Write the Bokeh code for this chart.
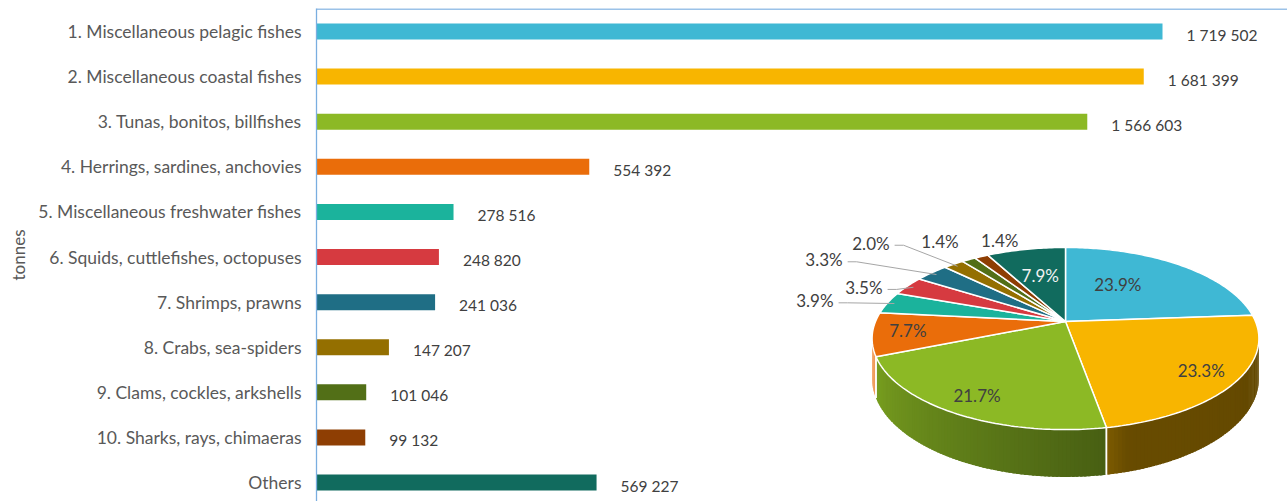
import math
from bokeh.plotting import figure
from bokeh.models import Range1d, FixedTicker, ColumnDataSource, Span
from bokeh.embed import file_html
from bokeh.resources import INLINE
from bokeh.core.properties import value

# ---------------- data ----------------
categories = [
    "1. Miscellaneous pelagic fishes",
    "2. Miscellaneous coastal fishes",
    "3. Tunas, bonitos, billfishes",
    "4. Herrings, sardines, anchovies",
    "5. Miscellaneous freshwater fishes",
    "6. Squids, cuttlefishes, octopuses",
    "7. Shrimps, prawns",
    "8. Crabs, sea-spiders",
    "9. Clams, cockles, arkshells",
    "10. Sharks, rays, chimaeras",
    "Others",
]
tonnes = [1719502, 1681399, 1566603, 554392, 278516, 248820, 241036,
          147207, 101046, 99132, 569227]
colors = ["#3FB8D4", "#F8B500", "#8CB925", "#EA6D0A", "#1BB39C", "#D63A40",
          "#1F6E85", "#946F00", "#526F17", "#8E3E03", "#116B5E"]

# ---------------- styles ----------------
FONT = "Lato"
TXT = "#404040"
AXC = "#7AAEE0"
# inside pie labels: index -> (radius factor, angle nudge deg, colour)
inside_style = {0: (0.55, -10, TXT), 1: (0.82, 0, TXT), 2: (0.83, 0, TXT),
                3: (0.82, 1, TXT), 10: (0.6, 0, "#F2F2F2")}
# outside pie labels: index -> (dx, dy, leader)
outside_style = {4: (-54, -2, True), 5: (-25, 1.5, True), 6: (-89, -13, True),
                 7: (-64, -21, True), 8: (-10, -18, False), 9: (37, -16, False)}

n = len(categories)
idx = list(range(n))

p = figure(width=1287, height=501,
           x_range=Range1d(0, 1973560), y_range=Range1d(10.42, -0.51),
           output_backend="svg", toolbar_location=None, title=None,
           min_border_left=316, min_border_right=0, min_border_top=8, min_border_bottom=0)
p.extra_x_ranges = {"px": Range1d(316, 1287)}
p.extra_y_ranges = {"py": Range1d(501, 8)}
p.outline_line_color = None
p.xgrid.visible = False
p.ygrid.visible = False
p.xaxis.visible = False

ya = p.yaxis[0]
ya.ticker = FixedTicker(ticks=idx)
ya.major_label_overrides = {i: c for i, c in enumerate(categories)}
ya.major_tick_line_color = None
ya.minor_tick_line_color = None
ya.major_tick_out = 0
ya.major_tick_in = 0
ya.major_label_standoff = 15
ya.axis_line_color = AXC
ya.axis_line_width = 1.3
ya.major_label_text_font = FONT
ya.major_label_text_font_size = "17.5px"
ya.major_label_text_color = "#595959"
ya.axis_label = "tonnes"
ya.axis_label_text_font = FONT
ya.axis_label_text_font_size = "17px"
ya.axis_label_text_font_style = "normal"
ya.axis_label_text_color = "#595959"
ya.axis_label_standoff = 6

p.add_layout(Span(location=8.5, dimension="width", line_color=AXC, line_width=1.3,
                  y_range_name="py"))

src = ColumnDataSource(dict(y=idx, v=tonnes, c=colors,
                            lab=[f"{t:,}".replace(",", " ") for t in tonnes]))
p.hbar(y="y", left=0, right="v", height=0.355, fill_color="c", line_color=None, source=src)
p.text(x="v", y="y", text="lab", source=src, x_offset=24, y_offset=3,
       text_baseline="middle", text_font=value(FONT), text_font_size="15.5px",
       text_color=TXT)

# ---------------- 3D pie ----------------
CX, CY, AX, BY, K = 1065.0, 321.0, 190.0, 87.9, 0.187
DEPTH = 38.5


def proj(theta, r=1.0):
    t = math.radians(theta)
    u, v = r * math.sin(t), r * math.cos(t)
    d = 1 + K * v
    return CX + AX * u / d, CY - BY * v / d


def drop(theta):
    v = math.cos(math.radians(theta))
    return DEPTH / (1 + K * v)


def shade(hexc, f):
    h = hexc.lstrip("#")
    r, g, b = (int(h[i:i + 2], 16) for i in (0, 2, 4))
    if f <= 1:
        r, g, b = r * f, g * f, b * f
    else:
        w = f - 1
        r, g, b = r + (255 - r) * w, g + (255 - g) * w, b + (255 - b) * w
    return "#%02x%02x%02x" % (int(r), int(g), int(b))


def side_factor(theta):
    pts = [(100.0, 0.40), (165.0, 0.42), (171.0, 0.52), (248.0, 0.86), (249.0, 1.25), (259.2, 1.35)]
    if theta <= pts[0][0]:
        return pts[0][1]
    for (a, fa), (b, fb) in zip(pts, pts[1:]):
        if theta <= b:
            return fa + (fb - fa) * (theta - a) / (b - a)
    return pts[-1][1]


total = float(sum(tonnes))
angles = []
acc = 0.0
for t in tonnes:
    a0 = acc
    acc += t / total * 360.0
    angles.append((a0, acc))

vis_lo = 90 + math.degrees(math.asin(K))
vis_hi = 270 - math.degrees(math.asin(K))

# sides (overlapping strips for a smooth gradient)
sx, sy, sc = [], [], []
bx, by = [], []
for i, (a, b) in enumerate(angles):
    lo, hi = max(a, vis_lo), min(b, vis_hi)
    if lo >= hi:
        continue
    steps = max(1, int(math.ceil((hi - lo) / 1.0)))
    for s in range(steps):
        t0 = lo + (hi - lo) * s / steps
        t1 = min(hi, lo + (hi - lo) * (s + 1) / steps + 0.6)
        x0, y0 = proj(t0)
        x1, y1 = proj(t1)
        sx.append([x0, x1, x1, x0])
        sy.append([y0, y1, y1 + drop(t1), y0 + drop(t0)])
        sc.append(shade(colors[i], side_factor((t0 + t1) / 2)))
    for edge in (a, b):
        if vis_lo < edge < vis_hi:
            ex, ey = proj(edge)
            bx.append([ex, ex])
            by.append([ey, ey + drop(edge)])
p.patches(sx, sy, fill_color=sc, line_color=None,
          x_range_name="px", y_range_name="py")
p.multi_line(bx, by, line_color="white", line_width=1.5,
             x_range_name="px", y_range_name="py")

# top faces
tx, ty = [], []
for i, (a, b) in enumerate(angles):
    steps = max(2, int(math.ceil((b - a) / 1.0)))
    xs, ys = [CX], [CY]
    for s in range(steps + 1):
        x, y = proj(a + (b - a) * s / steps)
        xs.append(x)
        ys.append(y)
    tx.append(xs)
    ty.append(ys)
p.patches(tx, ty, fill_color=colors, line_color="white", line_width=1.5,
          x_range_name="px", y_range_name="py")

pct = [f"{t / total * 100:.1f}%" for t in tonnes]

# inside labels
ix, iy, it, ic = [], [], [], []
for i, (r, nudge, col) in inside_style.items():
    a, b = angles[i]
    x, y = proj((a + b) / 2 + nudge, r)
    ix.append(x)
    iy.append(y)
    it.append(pct[i])
    ic.append(col)
p.text(ix, iy, text=it, text_color=ic, text_align="center", text_baseline="middle",
       text_font=value(FONT), text_font_size="17px",
       x_range_name="px", y_range_name="py")

# outside labels + leaders
ox, oy, ot = [], [], []
lx, ly = [], []
for i, (dx, dy, lead) in outside_style.items():
    a, b = angles[i]
    ex, ey = proj((a + b) / 2)
    rx, ry = ex + dx, ey + dy
    ox.append(rx)
    oy.append(ry)
    ot.append(pct[i])
    if lead:
        tx2, ty2 = proj((a + b) / 2, 0.96)
        lx.append([rx + 5, rx + 14, tx2])
        ly.append([ry + 2, ry + 2, ty2])
p.multi_line(lx, ly, line_color="#A6A6A6", line_width=1,
             x_range_name="px", y_range_name="py")
p.text(ox, oy, text=ot, text_align="right", text_baseline="middle",
       text_font=value(FONT), text_font_size="17px", text_color=TXT,
       x_range_name="px", y_range_name="py")

open("out.html", "w").write(file_html(p, INLINE))
